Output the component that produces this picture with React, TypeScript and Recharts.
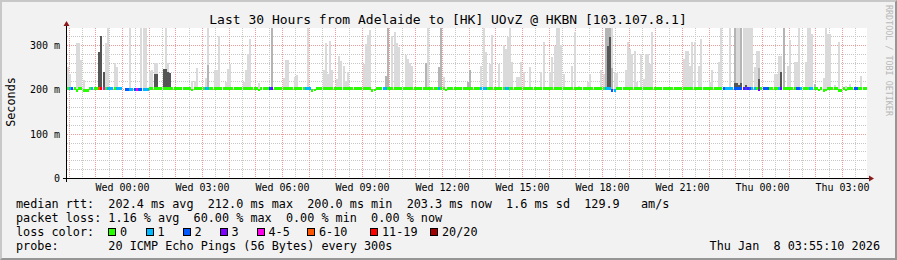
import React from "react";
import { ComposedChart, Bar, Cell, XAxis, YAxis, CartesianGrid } from "recharts";

// 30 hours of 5 minute steps, starting Tue 21:55:10
const stepMinutes = 5;
const stepCount = 360;
const baseMedian = 203;

// packet loss (of 20 pings) per step, only where it is not zero
const lossSteps = [1, 2, 11, 14, 15, 16, 18, 19, 20, 22, 23, 24, 26, 27, 28, 29, 30, 31, 32, 33, 34, 35, 36, 62, 63, 91, 92, 107, 108, 109, 142, 143, 167, 186, 187, 188, 197, 198, 242, 243, 244, 245, 246, 295, 296, 297, 298, 299, 300, 301, 302, 303, 304, 305, 306, 307, 308, 309, 311, 313, 314, 315, 320, 321, 328, 329, 330, 334, 335, 354, 355];
const lossValues = [1, 2, 1, 6, 11, 4, 1, 1, 1, 1, 1, 1, 2, 2, 1, 1, 2, 4, 2, 2, 1, 1, 1, 1, 1, 2, 3, 1, 1, 1, 1, 1, 1, 1, 1, 1, 1, 1, 1, 1, 1, 2, 1, 2, 1, 1, 1, 1, 2, 2, 2, 2, 3, 2, 3, 2, 1, 1, 3, 2, 2, 2, 1, 3, 2, 2, 1, 1, 1, 2, 2];
const gapSteps = [25];

// median rtt (ms) where it leaves the usual ~203 ms
const dipSteps = [4, 7, 8, 9, 26, 27, 28, 29, 30, 31, 32, 33, 34, 35, 36, 56, 86, 110, 111, 137, 138, 170, 245, 246, 311, 338, 340, 341, 347, 348, 350];
const dipValues = [199, 199, 199, 199, 201, 201, 201, 201, 201, 201, 201, 201, 201, 201, 201, 200, 200, 199, 200, 199, 200, 200, 199, 199, 200, 200, 199, 200, 199, 199, 200];

// smoke: highest ping per step (ms)
const smokeSteps = [0, 1, 4, 5, 6, 7, 14, 15, 16, 17, 18, 21, 22, 28, 33, 34, 35, 37, 38, 39, 40, 43, 44, 45, 46, 56, 57, 58, 62, 63, 66, 67, 68, 71, 72, 73, 79, 80, 81, 82, 86, 92, 97, 98, 99, 102, 103, 108, 115, 116, 117, 118, 119, 121, 122, 123, 124, 125, 126, 133, 134, 135, 136, 143, 144, 146, 147, 148, 149, 152, 153, 154, 155, 161, 162, 167, 168, 169, 180, 181, 186, 187, 188, 190, 191, 194, 196, 197, 198, 199, 200, 202, 203, 204, 205, 208, 213, 214, 217, 218, 219, 220, 221, 222, 223, 227, 228, 230, 234, 235, 240, 241, 242, 243, 244, 245, 246, 247, 251, 252, 253, 254, 255, 256, 258, 259, 260, 261, 262, 263, 277, 278, 279, 280, 281, 282, 284, 285, 289, 290, 293, 294, 298, 300, 301, 302, 303, 304, 305, 306, 307, 308, 309, 310, 311, 318, 319, 320, 321, 322, 324, 325, 327, 328, 329, 332, 333, 334, 335, 336, 340, 341, 342, 343, 345, 347, 350, 352, 357];
const smokeTops = [252, 237, 306, 306, 267, 222, 285, 321, 240, 306, 339, 260, 252, 339, 339, 339, 339, 243, 244, 260, 260, 248, 339, 261, 238, 221, 221, 249, 226, 339, 245, 245, 321, 218, 247, 259, 217, 244, 281, 315, 216, 339, 227, 268, 268, 229, 233, 339, 244, 306, 236, 311, 244, 225, 276, 266, 255, 221, 240, 259, 304, 324, 335, 232, 339, 323, 330, 306, 296, 279, 270, 262, 255, 261, 339, 253, 339, 229, 219, 244, 255, 339, 285, 259, 324, 259, 302, 293, 319, 339, 263, 229, 229, 263, 241, 253, 240, 308, 241, 274, 300, 339, 339, 302, 236, 255, 330, 208, 219, 236, 244, 236, 339, 339, 339, 339, 240, 238, 244, 309, 293, 281, 289, 217, 281, 225, 281, 281, 259, 330, 270, 289, 289, 254, 308, 308, 255, 315, 219, 244, 263, 339, 339, 339, 339, 339, 339, 339, 339, 339, 339, 339, 253, 289, 289, 236, 236, 276, 276, 339, 255, 314, 263, 263, 339, 263, 339, 339, 326, 213, 226, 339, 326, 326, 211, 308, 210, 213, 232];
// denser smoke (middle pings)
const midSteps = [63, 92, 143, 144, 161, 167, 168, 180, 181, 242, 243, 244, 245, 300, 303, 311, 322, 336];
const midTops = [256, 339, 232, 339, 261, 253, 339, 219, 244, 339, 339, 339, 250, 339, 339, 249, 339, 213];
const darkSteps = [14, 15, 16, 39, 40, 43, 44, 45, 46, 243, 244, 300, 301, 302, 303, 305, 311, 321];
const darkTops = [285, 321, 240, 237, 237, 248, 248, 240, 238, 300, 320, 215, 215, 212, 215, 212, 225, 240];

const tickMinutes = [124.83, 304.83, 484.83, 664.83, 844.83, 1024.83, 1204.83, 1384.83, 1564.83, 1744.83];
const tickLabels = ["Wed 00:00", "Wed 03:00", "Wed 06:00", "Wed 09:00", "Wed 12:00", "Wed 15:00", "Wed 18:00", "Wed 21:00", "Thu 00:00", "Thu 03:00"];
const hourLines = Array.from({ length: 30 }, (_, k) => 4.83 + k * 60);
const halfHourLines = Array.from({ length: 30 }, (_, k) => 34.83 + k * 60);
const yTicks = [0, 100, 200, 300];
const yLabels = ["0", "100 m", "200 m", "300 m"];
const yMinor = [20, 40, 60, 80, 120, 140, 160, 180, 220, 240, 260, 280, 320];
const yMajor = [100, 200, 300];

const lossLegend = ["0", "1", "2", "3", "4-5", "6-10", "11-19", "20/20"];
const lossColors = ["#26ff00", "#00b8ff", "#0059ff", "#7e00ff", "#ff00ea", "#ff5500", "#ff0000", "#a10000"];
const lossBoxX = [108, 145.5, 182.5, 219.5, 256.5, 307, 370, 430];

const FONT = "'DejaVu Sans Mono', monospace";

const lossColor = (n: number) => {
  if (n <= 3) return lossColors[n];
  if (n <= 5) return lossColors[4];
  if (n <= 10) return lossColors[5];
  if (n <= 19) return lossColors[6];
  return lossColors[7];
};

const pick = (steps: number[], vals: number[], i: number, def: number) => {
  const k = steps.indexOf(i);
  return k < 0 ? def : vals[k];
};

type Row = { t: number; band: number[] | null; light: number[] | null; mid: number[] | null; dark: number[] | null; color: string };

const rows: Row[] = Array.from({ length: stepCount }, (_, i) => {
  const t = i * stepMinutes + stepMinutes / 2;
  if (gapSteps.includes(i)) return { t, band: null, light: null, mid: null, dark: null, color: "none" };
  const med = pick(dipSteps, dipValues, i, baseMedian);
  const lo = med - 2.5;
  const hi = med + 3;
  const top = pick(smokeSteps, smokeTops, i, 0);
  const midTop = pick(midSteps, midTops, i, 0);
  const darkTop = pick(darkSteps, darkTops, i, 0);
  return {
    t,
    band: [lo, hi],
    light: top > hi ? [hi, top] : null,
    mid: midTop > hi ? [hi, midTop] : null,
    dark: darkTop > hi ? [hi, darkTop] : null,
    color: lossColor(pick(lossSteps, lossValues, i, 0)),
  };
});

const XTick = ({ x, payload }: any) => {
  const k = tickMinutes.indexOf(payload.value);
  return (
    <text x={x} y={187.5} textAnchor="middle" dominantBaseline="central" fontSize={10} fontFamily={FONT} fill="#000">
      {tickLabels[k]}
    </text>
  );
};

const YTick = ({ y, payload }: any) => {
  const k = yTicks.indexOf(payload.value);
  return (
    <text x={60} y={y} textAnchor="end" dominantBaseline="central" fontSize={10} fontFamily={FONT} fill="#000">
      {yLabels[k]}
    </text>
  );
};

const legendLines = [
  "median rtt:  202.4 ms avg  212.0 ms max  200.0 ms min  203.3 ms now  1.6 ms sd  129.9   am/s",
  "packet loss: 1.16 % avg  60.00 % max  0.00 % min  0.00 % now",
  "loss color:",
  "probe:       20 ICMP Echo Pings (56 Bytes) every 300s",
];

const txt: React.CSSProperties = {
  position: "absolute",
  fontFamily: FONT,
  fontSize: 11.8,
  lineHeight: "14px",
  whiteSpace: "pre",
  color: "#000",
};

const barW = 800 / 360;
const layerAxes = ["light", "mid", "dark", "band"];

const App = () => (
  <div style={{ position: "relative", width: 897, height: 260, background: "#f2f2f2", boxSizing: "border-box", borderTop: "2px solid #c8c8c8", borderLeft: "2px solid #c8c8c8", borderBottom: "2px solid #969696", borderRight: "2px solid #969696" }}>
    <style>{"body{margin:0} .plot svg{shape-rendering:crispEdges}"}</style>
    <div className="plot" style={{ position: "absolute", left: -2, top: -2 }}>
      <ComposedChart width={897} height={260} data={rows} margin={{ top: 28, right: 30, bottom: 51.5, left: 17 }} barCategoryGap={0} barGap={0}>
        <XAxis type="number" dataKey="t" domain={[0, 1800]} allowDataOverflow ticks={tickMinutes} interval={0} tick={<XTick />} axisLine={false} tickLine={false} height={30} />
        {layerAxes.map((id) => (
          <XAxis key={id} xAxisId={id} type="number" dataKey="t" domain={[0, 1800]} allowDataOverflow hide />
        ))}
        <YAxis type="number" domain={[0, 340]} allowDataOverflow ticks={yTicks} interval={0} tick={<YTick />} axisLine={false} tickLine={false} width={50} />
        <CartesianGrid fill="#ffffff" stroke="#c8c8c8" strokeDasharray="1 1" horizontalValues={yMinor} verticalValues={halfHourLines} />
        <CartesianGrid stroke="#f09a9a" strokeDasharray="1 1" horizontalValues={yMajor} verticalValues={hourLines} />
        <Bar xAxisId="light" dataKey="light" fill="#dadada" isAnimationActive={false} barSize={barW} />
        <Bar xAxisId="mid" dataKey="mid" fill="#b4b4b4" isAnimationActive={false} barSize={barW} />
        <Bar xAxisId="dark" dataKey="dark" fill="#555555" isAnimationActive={false} barSize={barW} />
        <Bar xAxisId="band" dataKey="band" isAnimationActive={false} barSize={barW}>
          {rows.map((r, i) => (
            <Cell key={i} fill={r.color} />
          ))}
        </Bar>
      </ComposedChart>
    </div>
    <svg width={897} height={260} style={{ position: "absolute", left: -2, top: -2 }}>
      <line x1={63} y1={178.5} x2={869} y2={178.5} stroke="#000" />
      <line x1={66.5} y1={182} x2={66.5} y2={25} stroke="#000" />
      <polygon points="63.5,26 69.5,26 66.5,21" fill="#8b1a1a" />
      <polygon points="869,175.5 869,181.5 874,178.5" fill="#8b1a1a" />
      <text x={448} y={19.5} textAnchor="middle" dominantBaseline="central" fontSize={13} fontFamily={FONT} fill="#000">
        Last 30 Hours from Adelaide to [HK] UOvZ @ HKBN [103.107.8.1]
      </text>
      <text transform="translate(11,102) rotate(-90)" textAnchor="middle" dominantBaseline="central" fontSize={11.8} fontFamily={FONT} fill="#000">
        Seconds
      </text>
      <text transform="translate(888.5,5) rotate(90)" textAnchor="start" dominantBaseline="central" fontSize={8.4} fontFamily={FONT} fill="#b8b8b8">
        RRDTOOL / TOBI OETIKER
      </text>
    </svg>
    {legendLines.map((l, k) => (
      <div key={l} style={{ ...txt, left: 14, top: 195 + k * 14 }}>{l}</div>
    ))}
    {lossLegend.map((l, k) => (
      <React.Fragment key={l}>
        <div style={{ position: "absolute", left: lossBoxX[k] - 2, top: 226, width: 8, height: 8, boxSizing: "border-box", border: "1px solid #000", background: lossColors[k] }} />
        <div style={{ ...txt, left: lossBoxX[k] + 10, top: 223 }}>{l}</div>
      </React.Fragment>
    ))}
    <div style={{ ...txt, right: 15, top: 237 }}>Thu Jan  8 03:55:10 2026</div>
  </div>
);

export default App;
